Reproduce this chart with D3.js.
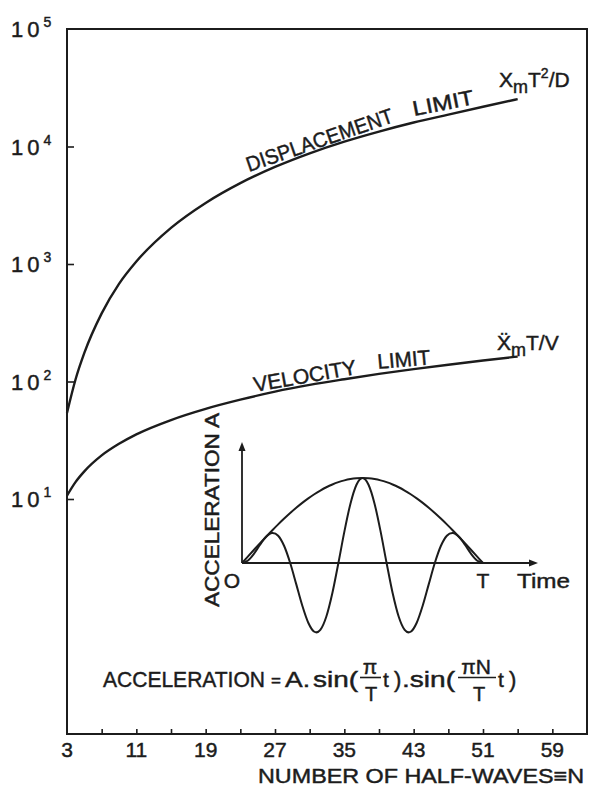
<!DOCTYPE html>
<html><head><meta charset="utf-8">
<script src="https://cdn.jsdelivr.net/npm/d3@7"></script>
<style>
body{margin:0;background:#fff}
text{font-family:"Liberation Sans",Arial,"DejaVu Sans",sans-serif;fill:#1c1c1c;stroke:#1c1c1c;stroke-width:0.45px}
</style>
</head><body><svg id="c" width="591" height="789"></svg>
<script>
// ---- data ----
const halfWaves          = [3, 4, 5, 7, 9, 11, 15, 19, 23, 27, 31, 35, 39, 43, 47, 51, 55];
const displacementLimit  = [54, 105, 175, 380, 678, 1050, 2030, 3310, 4880, 6700, 8750, 11000, 13400, 16000, 18700, 21800, 25300];
const velocityLimit      = [10.7, 14, 17.2, 23.5, 29.5, 35.5, 47, 58.5, 70, 82, 93.5, 104.5, 116, 127.5, 139, 151, 163];
const xTickLabels        = [3, 11, 19, 27, 35, 43, 51, 59];
const xTickMarks         = [7, 11, 15, 19, 23, 27, 31, 35, 39, 43, 47, 51, 55, 59];
const yTickExponents     = [1, 2, 3, 4, 5];
// inset sketch (N = 5 half-waves), sampled at t/T
const insetTime     = [0,0.025,0.05,0.075,0.1,0.125,0.15,0.175,0.2,0.225,0.25,0.275,0.3,0.325,0.35,0.375,0.4,0.425,0.45,0.475,0.5,
                       0.525,0.55,0.575,0.6,0.625,0.65,0.675,0.7,0.725,0.75,0.775,0.8,0.825,0.85,0.875,0.9,0.925,0.95,0.975,1];
const insetEnvelope = [0,0.0785,0.1564,0.2334,0.309,0.3827,0.454,0.5225,0.5878,0.6494,0.7071,0.7604,0.809,0.8526,0.891,0.9239,0.9511,0.9724,0.9877,0.9969,1,
                       0.9969,0.9877,0.9724,0.9511,0.9239,0.891,0.8526,0.809,0.7604,0.7071,0.6494,0.5878,0.5225,0.454,0.3827,0.309,0.2334,0.1564,0.0785,0];
const insetSignal   = [0,0.03,0.1106,0.2156,0.309,0.3536,0.321,0.2,0,-0.2485,-0.5,-0.7025,-0.809,-0.7877,-0.63,-0.3536,0,0.3721,0.6984,0.921,1,
                       0.921,0.6984,0.3721,0,-0.3536,-0.63,-0.7877,-0.809,-0.7025,-0.5,-0.2485,0,0.2,0.321,0.3536,0.309,0.2156,0.1106,0.03,0];

const svg = d3.select("#c");
const ink = "#1c1c1c";
const L = 67, R = 587, T = 29, B = 734;

const x = d3.scaleLinear().domain([3, 63]).range([L, R]);
const y = d3.scaleLog().domain([0.1, 1e5]).range([B, T]);

// frame
svg.append("rect").attr("x", L).attr("y", T).attr("width", R - L).attr("height", B - T)
  .attr("fill", "none").attr("stroke", ink).attr("stroke-width", 2);

// x ticks (inside)
svg.append("g").attr("transform", `translate(0,${B})`)
  .call(d3.axisTop(x).tickValues(xTickMarks).tickSize(5).tickFormat(""))
  .call(g => { g.select(".domain").remove(); g.selectAll("line").attr("stroke", ink).attr("stroke-width", 1.6); });
svg.append("g").selectAll("text").data(xTickLabels).join("text")
  .attr("x", d => x(d)).attr("y", 757).attr("text-anchor", "middle")
  .attr("font-size", 21).text(d => d);
svg.append("text").attr("x", 258).attr("y", 783).attr("font-size", 20)
  .attr("textLength", 326).attr("lengthAdjust", "spacingAndGlyphs")
  .text("NUMBER OF HALF-WAVES\u2261N");

// y ticks (inside)
svg.append("g").attr("transform", `translate(${L},0)`)
  .call(d3.axisRight(y).tickValues(yTickExponents.filter(e => e < 5).map(e => Math.pow(10, e))).tickSize(7).tickFormat(""))
  .call(g => { g.select(".domain").remove(); g.selectAll("line").attr("stroke", ink).attr("stroke-width", 1.6); });
const yl = svg.append("g").selectAll("text").data(yTickExponents).join("text")
  .attr("x", 11).attr("y", d => y(Math.pow(10, d)) + 8).attr("font-size", 22);
yl.append("tspan").attr("letter-spacing", 4).text("10");
yl.append("tspan").attr("dy", -10).attr("font-size", 14).text(d => d);

// curves
const line = d3.line().x(d => x(d[0])).y(d => y(d[1])).curve(d3.curveMonotoneX);
svg.append("path").datum(halfWaves.map((n, i) => [n, displacementLimit[i]]))
  .attr("d", line).attr("fill", "none").attr("stroke", ink).attr("stroke-width", 2.4);
svg.append("path").datum(halfWaves.map((n, i) => [n, velocityLimit[i]]))
  .attr("d", line).attr("fill", "none").attr("stroke", ink).attr("stroke-width", 2.4);

// curve labels
function word(txt, x0, y0, ang, len, fs) {
  svg.append("text").attr("transform", `translate(${x0},${y0}) rotate(${ang})`)
    .attr("font-size", fs).attr("textLength", len).attr("lengthAdjust", "spacingAndGlyphs").text(txt);
}
word("DISPLACEMENT", 249, 172, -19, 154, 21);
word("LIMIT", 414, 116, -11, 62, 21);
word("VELOCITY", 255, 392, -10, 104, 21);
word("LIMIT", 378, 369, -5, 53, 21);

const dl = svg.append("text").attr("x", 499).attr("y", 87).attr("font-size", 21);
dl.append("tspan").text("X");
dl.append("tspan").attr("dy", 6).attr("font-size", 18).text("m");
dl.append("tspan").attr("dy", -6).text("T");
dl.append("tspan").attr("dy", -9).attr("font-size", 14).text("2");
dl.append("tspan").attr("dy", 9).text("/D");

const vl = svg.append("text").attr("x", 497).attr("y", 350).attr("font-size", 21);
vl.append("tspan").text("\u1E8C");
vl.append("tspan").attr("dy", 6).attr("font-size", 18).text("m");
vl.append("tspan").attr("dy", -6).text("T/V");

// ---- inset sketch ----
const ix = d3.scaleLinear().domain([0, 1]).range([242, 483]);
const iy = d3.scaleLinear().domain([-1, 1]).range([648, 478]);
const ig = svg.append("g");
ig.append("line").attr("x1", ix(0)).attr("y1", iy(0)).attr("x2", ix(0)).attr("y2", 447)
  .attr("stroke", ink).attr("stroke-width", 1.8);
ig.append("path").attr("d", `M${ix(0)-3.5},${451} L${ix(0)},${442} L${ix(0)+3.5},${451} Z`).attr("fill", ink);
ig.append("line").attr("x1", ix(0)).attr("y1", iy(0)).attr("x2", 533).attr("y2", iy(0))
  .attr("stroke", ink).attr("stroke-width", 1.8);
ig.append("path").attr("d", `M${529},${iy(0)-3.5} L${538},${iy(0)} L${529},${iy(0)+3.5} Z`).attr("fill", ink);
const il = d3.line().x((d, i) => ix(insetTime[i])).y(d => iy(d)).curve(d3.curveCardinal);
ig.append("path").datum(insetEnvelope).attr("d", il).attr("fill", "none").attr("stroke", ink).attr("stroke-width", 2);
ig.append("path").datum(insetSignal).attr("d", il).attr("fill", "none").attr("stroke", ink).attr("stroke-width", 2);
ig.append("text").attr("x", 232).attr("y", 588).attr("text-anchor", "middle").attr("font-size", 21).text("O");
ig.append("text").attr("x", ix(1)).attr("y", 588).attr("text-anchor", "middle").attr("font-size", 21).text("T");
ig.append("text").attr("x", 517).attr("y", 588).attr("font-size", 21)
  .attr("textLength", 53).attr("lengthAdjust", "spacingAndGlyphs").text("Time");
ig.append("text").attr("transform", "translate(219,607) rotate(-90)").attr("font-size", 21)
  .attr("textLength", 194).attr("lengthAdjust", "spacingAndGlyphs").text("ACCELERATION A");

// ---- formula ----
const fg = svg.append("g");
function ft(txt, x0, y0, fs, opts = {}) {
  const t = fg.append("text").attr("x", x0).attr("y", y0).attr("font-size", fs).text(txt);
  if (opts.anchor) t.attr("text-anchor", opts.anchor);
  if (opts.len) t.attr("textLength", opts.len).attr("lengthAdjust", "spacingAndGlyphs");
  return t;
}
ft("ACCELERATION", 103, 687, 22, {len: 162});
ft("=", 271, 686, 17);
ft("A.", 285, 687, 22, {len: 25});
ft("sin(", 313, 687, 22, {len: 45});
ft("\u03C0", 370, 674, 21, {anchor: "middle"});
fg.append("line").attr("x1", 360).attr("x2", 381).attr("y1", 677.5).attr("y2", 677.5).attr("stroke", ink).attr("stroke-width", 1.6);
ft("T", 371, 701, 20, {anchor: "middle"});
ft("t", 383, 687, 21);
ft(")", 394, 687, 22);
ft(".sin(", 402, 687, 22, {len: 53});
ft("\u03C0N", 476, 674, 21, {anchor: "middle"});
fg.append("line").attr("x1", 458).attr("x2", 496).attr("y1", 677.5).attr("y2", 677.5).attr("stroke", ink).attr("stroke-width", 1.6);
ft("T", 479, 701, 20, {anchor: "middle"});
ft("t", 498, 687, 21);
ft(")", 509, 687, 22);
</script>
</body></html>
